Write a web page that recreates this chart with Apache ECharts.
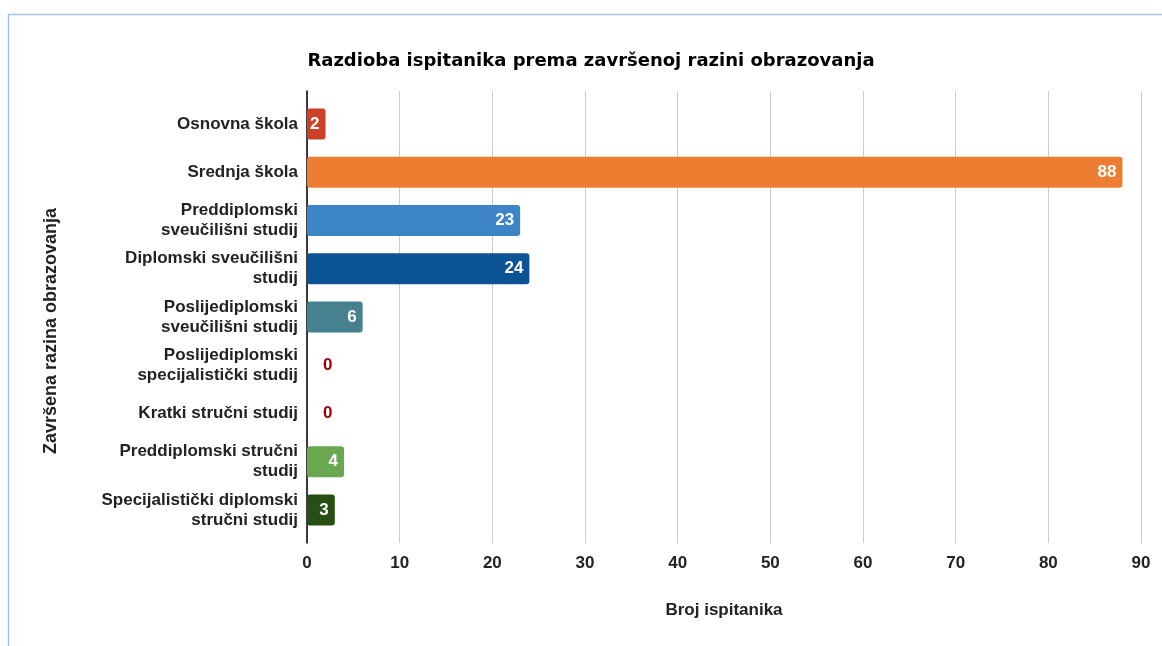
<!DOCTYPE html>
<html>
<head>
<meta charset="utf-8">
<script src="https://cdn.jsdelivr.net/npm/echarts@6/dist/echarts.min.js"></script>
<style>
  html, body { margin: 0; padding: 0; background: #fff; }
  #chart { width: 1162px; height: 646px; }
</style>
</head>
<body>
<div id="chart"></div>
<script>
  // data
  var categories = [
    'Osnovna škola',
    'Srednja škola',
    'Preddiplomski\nsveučilišni studij',
    'Diplomski sveučilišni\nstudij',
    'Poslijediplomski\nsveučilišni studij',
    'Poslijediplomski\nspecijalistički studij',
    'Kratki stručni studij',
    'Preddiplomski stručni\nstudij',
    'Specijalistički diplomski\nstručni studij'
  ]
  var values = [2, 88, 23, 24, 6, 0, 0, 4, 3]
  var xTicks = [0, 10, 20, 30, 40, 50, 60, 70, 80, 90]

  var barColors = ['#cc4125', '#ed7d31', '#3d85c6', '#0b5394', '#45818e',
    '#990000', '#990000', '#6aa84f', '#274e13']

  var font = 'Liberation Sans, Arial, sans-serif'

  var chart = echarts.init(document.getElementById('chart'))

  chart.setOption({
    backgroundColor: '#fff',
    animation: false,
    title: {
      text: 'Razdioba ispitanika prema završenoj razini obrazovanja',
      left: 586,
      textAlign: 'center',
      top: 47,
      textStyle: { fontFamily: 'DejaVu Sans, sans-serif', fontSize: 18, fontWeight: 'bold', color: '#000' }
    },
    graphic: [{
      type: 'rect',
      shape: { x: 8.5, y: 14.5, width: 1300, height: 800 },
      style: { fill: 'none', stroke: '#a4c2e8', lineWidth: 1.5 },
      silent: true
    }],
    grid: [
      // grid 0 carries gridlines and the value axis
      { left: 307, right: 21, top: 91, bottom: 103 },
      // grid 1 carries bars and category labels
      { left: 307, right: 21, top: 100, bottom: 112 }
    ],
    xAxis: [{
      gridIndex: 0,
      type: 'value',
      min: xTicks[0],
      max: xTicks[xTicks.length - 1],
      interval: 10,
      name: 'Broj ispitanika',
      nameLocation: 'middle',
      nameGap: 59,
      nameTextStyle: { fontFamily: font, fontSize: 17, fontWeight: 'bold', color: '#222' },
      axisLine: { show: false },
      axisTick: { show: false },
      axisLabel: { fontFamily: font, fontSize: 17, fontWeight: 'bold', color: '#222', margin: 12 },
      splitLine: { lineStyle: { color: '#cccccc', width: 1 } }
    }, {
      gridIndex: 1,
      type: 'value',
      min: xTicks[0],
      max: xTicks[xTicks.length - 1],
      show: false
    }],
    yAxis: [{
      gridIndex: 0,
      type: 'category',
      data: [''],
      axisLine: { lineStyle: { color: '#000', width: 1.5 } },
      axisTick: { show: false },
      axisLabel: { show: false },
      name: 'Završena razina obrazovanja',
      nameLocation: 'middle',
      nameGap: 247,
      nameTextStyle: {
        fontFamily: font, fontSize: 18, fontWeight: 'bold', color: '#222',
        padding: [0, 28, 0, 0]
      }
    }, {
      gridIndex: 1,
      type: 'category',
      inverse: true,
      data: categories,
      axisLine: { show: false },
      axisTick: { show: false },
      axisLabel: {
        fontFamily: font, fontSize: 17, fontWeight: 'bold', color: '#222',
        margin: 9, lineHeight: 20, align: 'right'
      }
    }],
    series: [{
      type: 'bar',
      xAxisIndex: 1,
      yAxisIndex: 1,
      barWidth: 31,
      data: values.map(function (v, i) {
        var item = {
          value: v,
          itemStyle: { color: barColors[i], borderRadius: 3 }
        }
        if (v === 0) {
          item.label = { position: 'right', distance: 16, color: '#990000' }
        }
        return item
      }),
      label: {
        show: true,
        position: 'insideRight',
        distance: 6,
        fontFamily: font,
        fontSize: 17,
        fontWeight: 'bold',
        color: '#fff'
      }
    }]
  })
</script>
</body>
</html>
